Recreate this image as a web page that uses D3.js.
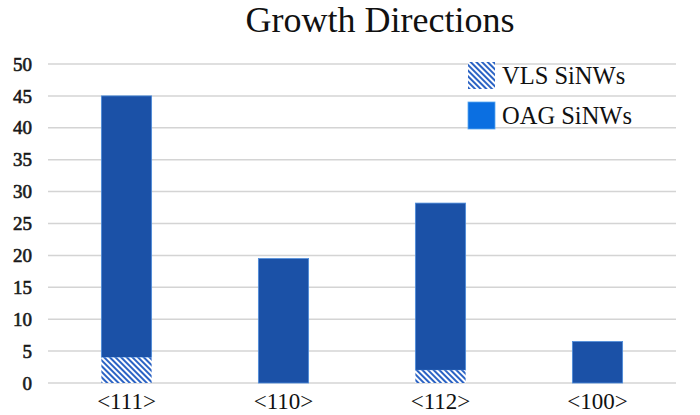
<!DOCTYPE html>
<html><head><meta charset="utf-8">
<script src="https://cdn.jsdelivr.net/npm/d3@7"></script>
<style>body{margin:0;background:#fff}svg{display:block}text{font-family:"Liberation Serif","Times New Roman",Times,serif}</style>
</head><body>
<script>
const categories = ["<111>", "<110>", "<112>", "<100>"];
const vlsValues = [4, 0, 2, 0];
const oagValues = [41, 19.5, 26.2, 6.5];
const yTicks = [0, 5, 10, 15, 20, 25, 30, 35, 40, 45, 50];
const seriesNames = ["VLS SiNWs", "OAG SiNWs"];

const W = 700, H = 415;
const svg = d3.select("body").append("svg").attr("width", W).attr("height", H);
const defs = svg.append("defs");
const pat = defs.append("pattern").attr("id", "hatch").attr("patternUnits", "userSpaceOnUse")
  .attr("width", 4).attr("height", 4).attr("patternTransform", "rotate(-45)");
pat.append("rect").attr("width", 4).attr("height", 4).attr("fill", "#ffffff");
pat.append("rect").attr("width", 2).attr("height", 4).attr("fill", "#2b63c4");

const x = d3.scaleBand().domain(categories).range([48, 676]).paddingInner(0.68).paddingOuter(0.34);
const y = d3.scaleLinear().domain([0, 50]).range([383, 64]);

svg.append("g").selectAll("line").data(yTicks).join("line")
  .attr("x1", 48).attr("x2", 676)
  .attr("y1", d => y(d)).attr("y2", d => y(d))
  .attr("stroke", "#d4d4d4").attr("stroke-width", 1.5);

svg.append("g").selectAll("text").data(yTicks).join("text")
  .attr("x", 32).attr("y", d => y(d)).attr("dy", "0.35em")
  .attr("text-anchor", "end")
  .attr("font-size", 19).attr("fill", "#1a1a1a")
  .attr("stroke", "#1a1a1a").attr("stroke-width", 0.6)
  .text(d => d);

const data = categories.map((c, i) => ({c, vls: vlsValues[i], oag: oagValues[i]}));
const g = svg.append("g");
g.selectAll("rect.oag").data(data).join("rect").attr("class", "oag")
  .attr("x", d => x(d.c)).attr("width", x.bandwidth())
  .attr("y", d => y(d.vls + d.oag)).attr("height", d => y(d.vls) - y(d.vls + d.oag))
  .attr("fill", "#1b51a7").attr("stroke", "#4f8ddb").attr("stroke-width", 0.8);
g.selectAll("rect.vls").data(data.filter(d => d.vls > 0)).join("rect").attr("class", "vls")
  .attr("x", d => x(d.c)).attr("width", x.bandwidth())
  .attr("y", d => y(d.vls)).attr("height", d => y(0) - y(d.vls))
  .attr("fill", "url(#hatch)");

svg.append("g").selectAll("text").data(categories).join("text")
  .attr("x", d => x(d) + x.bandwidth() / 2).attr("y", 409)
  .attr("text-anchor", "middle")
  .attr("font-size", 23).attr("fill", "#111")
  .text(d => d);

svg.append("text").attr("x", 380).attr("y", 32).attr("text-anchor", "middle")
  .attr("font-size", 36).attr("fill", "#111").text("Growth Directions");

const leg = svg.append("g");
const legFills = ["url(#hatch)", "#0b6fe1"];
seriesNames.forEach((n, i) => {
  const yy = 62 + i * 40;
  leg.append("rect").attr("x", 468).attr("y", yy).attr("width", 27).attr("height", 27)
    .attr("fill", legFills[i]).attr("stroke", i === 1 ? "#5aa8f0" : "none").attr("stroke-width", 0.8);
  leg.append("text").attr("x", 502).attr("y", yy + 22)
    .attr("font-size", 24.5).attr("fill", "#111").text(n);
});
</script>
</body></html>
